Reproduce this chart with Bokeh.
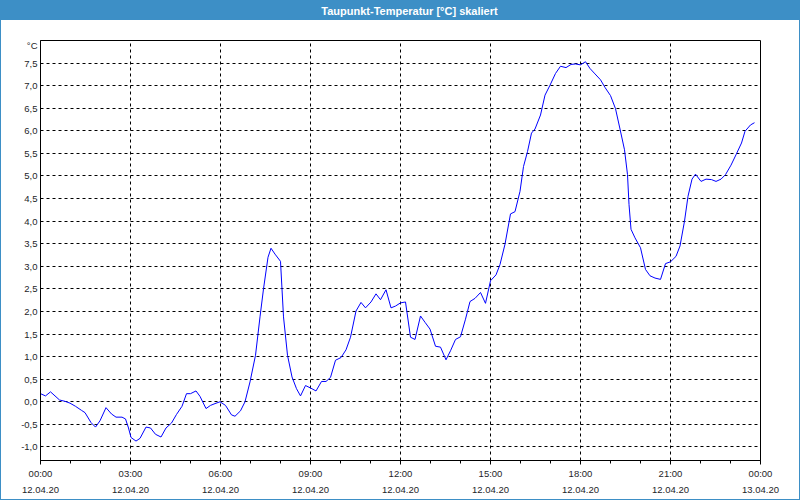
from bokeh.plotting import figure
from bokeh.models import FixedTicker, CustomJSTickFormatter, ColumnDataSource, LinearAxis
from bokeh.embed import file_html
from bokeh.resources import INLINE

# time of each reading, minutes after 12.04.20 00:00
minutes = [0, 10, 20, 29, 38, 49, 59, 70, 82, 89, 101, 110, 119, 131, 142, 151, 163, 170, 176, 181,
           191, 199, 211, 220, 230, 241, 251, 262, 272, 283, 292, 300, 311, 319, 331, 340, 349, 359,
           370, 382, 389, 400, 409, 419, 430, 439, 446, 455, 461, 469, 480, 486, 494, 503, 512, 520,
           530, 541, 551, 562, 571, 580, 590, 601, 611, 620, 631, 641, 650, 661, 671, 680, 691, 701,
           710, 720, 730, 740, 749, 760, 769, 779, 790, 800, 811, 820, 830, 840, 850, 859, 869, 880,
           890, 900, 911, 919, 929, 940, 949, 959, 966, 974, 982, 989, 1000, 1009, 1019, 1030, 1040,
           1051, 1061, 1070, 1080, 1090, 1099, 1109, 1120, 1129, 1140, 1150, 1159, 1168, 1174, 1177,
           1181, 1189, 1200, 1210, 1219, 1229, 1240, 1250, 1260, 1271, 1279, 1288, 1295, 1303, 1310,
           1321, 1331, 1342, 1351, 1361, 1370, 1381, 1391, 1402, 1409, 1420, 1428]

# dew point temperature, deg C
dewpoint = [0.18, 0.13, 0.22, 0.13, 0.04, 0.01, -0.03, -0.10, -0.19, -0.24, -0.46, -0.56, -0.42, -0.13,
            -0.27, -0.34, -0.34, -0.38, -0.58, -0.79, -0.87, -0.81, -0.56, -0.58, -0.72, -0.78, -0.58,
            -0.47, -0.28, -0.10, 0.18, 0.18, 0.24, 0.12, -0.15, -0.08, -0.04, 0.00,
            -0.08, -0.29, -0.32, -0.20, 0.00, 0.44, 1.03, 1.88, 2.50, 3.20, 3.40, 3.27, 3.11, 1.88,
            1.03, 0.55, 0.29, 0.13, 0.36, 0.30, 0.24, 0.45, 0.45, 0.54, 0.92, 0.98, 1.15, 1.43, 2.01,
            2.20, 2.08, 2.21, 2.39, 2.26, 2.48, 2.08, 2.12, 2.19,
            2.21, 1.43, 1.38, 1.90, 1.76, 1.61, 1.23, 1.21, 0.93, 1.13, 1.38, 1.44, 1.83, 2.22, 2.29,
            2.42, 2.18, 2.68, 2.81, 3.04, 3.49, 4.16, 4.21, 4.66, 5.21, 5.54, 5.95, 6.04, 6.35, 6.79,
            7.01, 7.27, 7.43, 7.40, 7.47, 7.48, 7.46,
            7.53, 7.38, 7.26, 7.13, 6.96, 6.78, 6.49, 6.04, 5.58, 5.03, 4.37, 3.82, 3.63, 3.41, 2.93,
            2.79, 2.74, 2.71, 3.06, 3.10, 3.22, 3.45, 4.00, 4.55, 4.93, 5.04, 4.88, 4.93, 4.92, 4.88,
            4.93, 5.03, 5.24, 5.47, 5.73, 5.99, 6.13, 6.18]

x_tick_hours = [0, 3, 6, 9, 12, 15, 18, 21, 24]
x_tick_times = ["00:00", "03:00", "06:00", "09:00", "12:00", "15:00", "18:00", "21:00", "00:00"]
x_tick_dates = ["12.04.20", "12.04.20", "12.04.20", "12.04.20", "12.04.20",
                "12.04.20", "12.04.20", "12.04.20", "13.04.20"]
y_ticks = [-1.0, -0.5, 0.0, 0.5, 1.0, 1.5, 2.0, 2.5, 3.0, 3.5, 4.0, 4.5, 5.0, 5.5, 6.0, 6.5, 7.0, 7.5]

title_text = "Taupunkt-Temperatur [°C] skaliert"
title_pos = 12.3
unit_text = "°C"
unit_pos = 7.9

FONT = "Liberation Sans"
BAR = "#3d8fc6"
LABEL_COLOR = "#1e1e28"

source = ColumnDataSource(data=dict(h=[m / 60 for m in minutes], t=dewpoint))

p = figure(width=800, height=500, x_range=(0, 24), y_range=(-1.3, 8.0),
           output_backend="svg", toolbar_location=None, title=None,
           min_border_left=40, min_border_right=40, min_border_top=40, min_border_bottom=40)

p.styles = {
    "background": f"linear-gradient(to bottom, {BAR} 0px, {BAR} 20px, #ffffff 20px, #ffffff 100%)",
    "box-shadow": f"inset 0 0 0 1px {BAR}",
}
p.border_fill_color = None
p.background_fill_color = "white"
p.outline_line_color = "black"
p.outline_line_alpha = 1.0
p.outline_line_width = 1

p.line("h", "t", source=source, line_color="#0000ff", line_width=1)

# title, drawn as the single label of an axis above the frame (sits in the blue bar)
ta = LinearAxis(ticker=FixedTicker(ticks=[title_pos], minor_ticks=[]),
                major_label_overrides={title_pos: title_text},
                axis_line_color=None, major_tick_line_color=None, minor_tick_line_color=None,
                major_tick_in=0, major_tick_out=0,
                major_label_standoff=24,
                major_label_text_color="white", major_label_text_font=FONT,
                major_label_text_font_style="bold", major_label_text_font_size="11px")
p.add_layout(ta, "above")

# axes
xa = p.below[0]
xa.ticker = FixedTicker(ticks=x_tick_hours, minor_ticks=list(range(25)))
xa.major_label_overrides = {h: f"{t}\n{d}" for h, t, d in zip(x_tick_hours, x_tick_times, x_tick_dates)}
xa.major_tick_in = 0
xa.major_tick_out = 4
xa.minor_tick_in = 0
xa.minor_tick_out = 3
xa.major_label_standoff = 3
xa.major_label_text_line_height = 1.5

ya = p.left[0]
ya.ticker = FixedTicker(ticks=y_ticks + [unit_pos], minor_ticks=[])
ya.formatter = CustomJSTickFormatter(code="return tick.toFixed(1).replace('.', ',');")
ya.major_label_overrides = {unit_pos: unit_text}
ya.major_tick_in = 0
ya.major_tick_out = 0
ya.major_label_standoff = 3

for ax in (xa, ya):
    ax.axis_line_color = "black"
    ax.major_tick_line_color = "black"
    ax.minor_tick_line_color = "black"
    ax.major_label_text_font = FONT
    ax.major_label_text_font_size = "9.5px"
    ax.major_label_text_color = LABEL_COLOR

p.xgrid.ticker = FixedTicker(ticks=[3, 6, 9, 12, 15, 18, 21])
p.ygrid.ticker = FixedTicker(ticks=y_ticks)
for g in (p.xgrid[0], p.ygrid[0]):
    g.grid_line_color = "black"
    g.grid_line_dash = "3 3"
    g.grid_line_width = 1

open("out.html", "w").write(file_html(p, INLINE))
